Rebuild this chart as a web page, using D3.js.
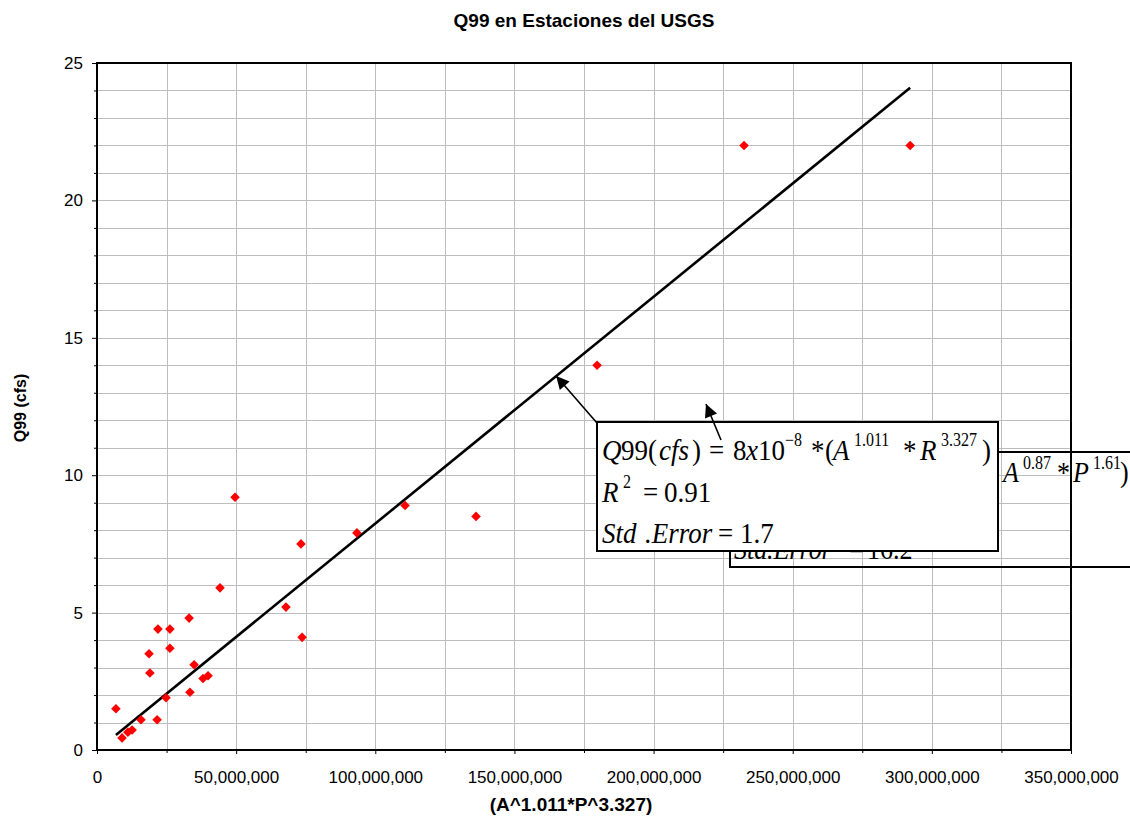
<!DOCTYPE html>
<html>
<head>
<meta charset="utf-8">
<script src="https://cdn.jsdelivr.net/npm/d3@7"></script>
<style>
  body { margin: 0; background: #fff; }
  .axis text { font-family: "Liberation Sans", Arial, sans-serif; font-size: 17px; fill: #000; }
  .eq { font-family: "Liberation Serif", "Times New Roman", serif; fill: #000; }
</style>
</head>
<body>
<div id="chart"></div>
<script>
  // station values (x in A^1.011*P^3.327, y = Q99 in cfs)
  let xValues = [6.8e6, 9.0e6, 11.1e6, 12.6e6, 15.8e6, 18.7e6, 19.0e6, 21.9e6, 21.6e6, 24.8e6,
    26.2e6, 26.2e6, 33.1e6, 33.4e6, 34.9e6, 38.1e6, 39.9e6, 44.2e6, 49.6e6, 67.9e6,
    73.3e6, 73.7e6, 93.4e6, 110.7e6, 136.2e6, 179.7e6, 232.5e6, 292.2e6]
  let yValues = [1.5, 0.44, 0.65, 0.73, 1.1, 3.5, 2.8, 4.4, 1.1, 1.9,
    4.4, 3.7, 4.8, 2.1, 3.1, 2.6, 2.7, 5.9, 9.2, 5.2,
    7.5, 4.1, 7.9, 8.9, 8.5, 14.0, 22.0, 22.0]
  // fitted line ends
  let trendX = [6.8e6, 292.2e6]
  let trendY = [0.55, 24.1]

  let xTicks = [0, 50e6, 100e6, 150e6, 200e6, 250e6, 300e6, 350e6]
  let yTicks = [0, 5, 10, 15, 20, 25]

  let W = 1130, H = 819
  let pL = 97, pR = 1071, pT = 63, pB = 750

  let svg = d3.select('#chart').append('svg')
    .attr('width', W).attr('height', H)
    .attr('xmlns', 'http://www.w3.org/2000/svg')

  let x = d3.scaleLinear().domain([0, 350e6]).range([pL, pR])
  let y = d3.scaleLinear().domain([0, 25]).range([pB, pT])

  // grid
  let grid = svg.append('g').attr('stroke', '#bdbdbd').attr('stroke-width', 1)
  grid.selectAll('.gy').data(d3.range(1, 25)).join('line')
    .attr('x1', pL).attr('x2', pR)
    .attr('y1', d => Math.round(y(d)) + .5).attr('y2', d => Math.round(y(d)) + .5)
  grid.selectAll('.gx').data(d3.range(25e6, 350e6, 25e6)).join('line')
    .attr('y1', pT).attr('y2', pB)
    .attr('x1', d => Math.round(x(d)) + .5).attr('x2', d => Math.round(x(d)) + .5)

  // axes
  svg.append('g').attr('class', 'axis')
    .attr('transform', `translate(0,${pB})`)
    .call(d3.axisBottom(x).tickValues(xTicks).tickFormat(d3.format(',')).tickSize(4).tickPadding(17))
  svg.append('g').attr('class', 'axis')
    .attr('transform', `translate(0,${pB})`)
    .call(d3.axisBottom(x).tickValues(d3.range(25e6, 350e6, 50e6)).tickFormat('').tickSize(3))
  svg.append('g').attr('class', 'axis')
    .attr('transform', `translate(${pL},0)`)
    .call(d3.axisLeft(y).tickValues(yTicks).tickSize(5).tickPadding(9))
  svg.append('g').attr('class', 'axis')
    .attr('transform', `translate(${pL},0)`)
    .call(d3.axisLeft(y).tickValues(d3.range(1, 25).filter(d => d % 5)).tickFormat('').tickSize(3))
  svg.selectAll('.axis .domain').remove()
  svg.selectAll('.axis line').attr('stroke', '#000')

  // frame
  svg.append('rect')
    .attr('x', pL).attr('y', pT).attr('width', pR - pL).attr('height', pB - pT)
    .attr('fill', 'none').attr('stroke', '#000').attr('stroke-width', 2)

  // trend line
  svg.append('line')
    .attr('x1', x(trendX[0])).attr('y1', y(trendY[0]))
    .attr('x2', x(trendX[1])).attr('y2', y(trendY[1]))
    .attr('stroke', '#000').attr('stroke-width', 2.6)

  // points
  let pts = xValues.map((v, i) => [v, yValues[i]])
  svg.append('g').selectAll('path').data(pts).join('path')
    .attr('d', d3.symbol(d3.symbolSquare, 46))
    .attr('transform', d => `translate(${x(d[0])},${y(d[1])}) rotate(45)`)
    .attr('fill', '#ff0000')

  // titles
  svg.append('text').attr('x', 584).attr('y', 27).attr('text-anchor', 'middle')
    .style('font', 'bold 19px "Liberation Sans", Arial, sans-serif')
    .text('Q99 en Estaciones del USGS')
  svg.append('text').attr('x', 571).attr('y', 811).attr('text-anchor', 'middle')
    .style('font', 'bold 19px "Liberation Sans", Arial, sans-serif')
    .text('(A^1.011*P^3.327)')
  svg.append('text').attr('transform', 'translate(26,408) rotate(-90)').attr('text-anchor', 'middle')
    .style('font', 'bold 16px "Liberation Sans", Arial, sans-serif')
    .text('Q99 (cfs)')

  // arrow marker
  let defs = svg.append('defs')
  defs.append('marker').attr('id', 'ah')
    .attr('viewBox', '0 0 10 10').attr('refX', 10).attr('refY', 5)
    .attr('markerUnits', 'userSpaceOnUse')
    .attr('markerWidth', 16).attr('markerHeight', 13).attr('orient', 'auto')
    .append('path').attr('d', 'M0,0 L10,5 L0,10 z').attr('fill', '#000')

  // one line of equation: parts are [text, italic, superscript, x]
  // glyphs are a little taller than wide in the original, hence the scale
  function eqLine(g, base, parts, size, supSize) {
    let t = g.append('text').attr('class', 'eq').style('font-size', size + 'px')
      .attr('transform', `translate(0,${base}) scale(1,1.12)`)
    parts.forEach(p => {
      let s = t.append('tspan').text(p[0]).attr('x', p[3])
        .attr('y', p[2] ? -size * 0.45 : 0)
      if (p[1]) s.style('font-style', 'italic')
      if (p[2]) s.style('font-size', supSize + 'px')
    })
    return t
  }

  // second (older) annotation box, partly hidden
  let back = svg.append('g')
  back.append('path')
    .attr('d', 'M730,545 L730,567 L1140,567 M998,452 L1140,452')
    .attr('fill', 'none').attr('stroke', '#000').attr('stroke-width', 2)
  eqLine(back, 482, [['A', true, 0, 1003], ['0.87', false, 1, 1023], ['*', false, 0, 1057],
    ['P', true, 0, 1073], ['1.61', false, 1, 1093], [')', false, 0, 1120]], 26, 16)
  eqLine(back, 559, [['Std', true, 0, 734], ['.Error', true, 0, 767], ['=', false, 0, 849],
    ['16.2', false, 0, 867]], 26, 16)

  // arrows
  svg.append('line')
    .attr('x1', 597).attr('y1', 423)
    .attr('x2', x(165e6)).attr('y2', y(165e6 * 8.25e-8))
    .attr('stroke', '#000').attr('stroke-width', 1.6).attr('marker-end', 'url(#ah)')

  // main equation box
  let box = svg.append('g')
  box.append('rect').attr('x', 597).attr('y', 422).attr('width', 401).attr('height', 129)
    .attr('fill', '#fff').attr('stroke', '#000').attr('stroke-width', 2)
  eqLine(box, 460, [['Q', true, 0, 602], ['99(', false, 0, 621], ['cfs', true, 0, 659], [')', false, 0, 692],
    ['=', false, 0, 709], ['8', false, 0, 733], ['x', true, 0, 746], ['10', false, 0, 758],
    ['\u22128', false, 1, 785], ['*', false, 0, 811], ['(', false, 0, 825], ['A', true, 0, 833],
    ['1.011', false, 1, 854], ['*', false, 0, 903], ['R', true, 0, 920], ['3.327', false, 1, 941],
    [')', false, 0, 982]], 27, 16)
  eqLine(box, 502, [['R', true, 0, 602], ['2', false, 1, 623], ['=', false, 0, 643], ['0.91', false, 0, 664]], 27, 16)
  eqLine(box, 543, [['Std', true, 0, 602], ['.Error', true, 0, 645], ['=', false, 0, 718], ['1.7', false, 0, 740]], 27, 16)

  svg.append('line')
    .attr('x1', 721).attr('y1', 440).attr('x2', 706).attr('y2', 404)
    .attr('stroke', '#000').attr('stroke-width', 1.6).attr('marker-end', 'url(#ah)')
</script>
</body>
</html>
